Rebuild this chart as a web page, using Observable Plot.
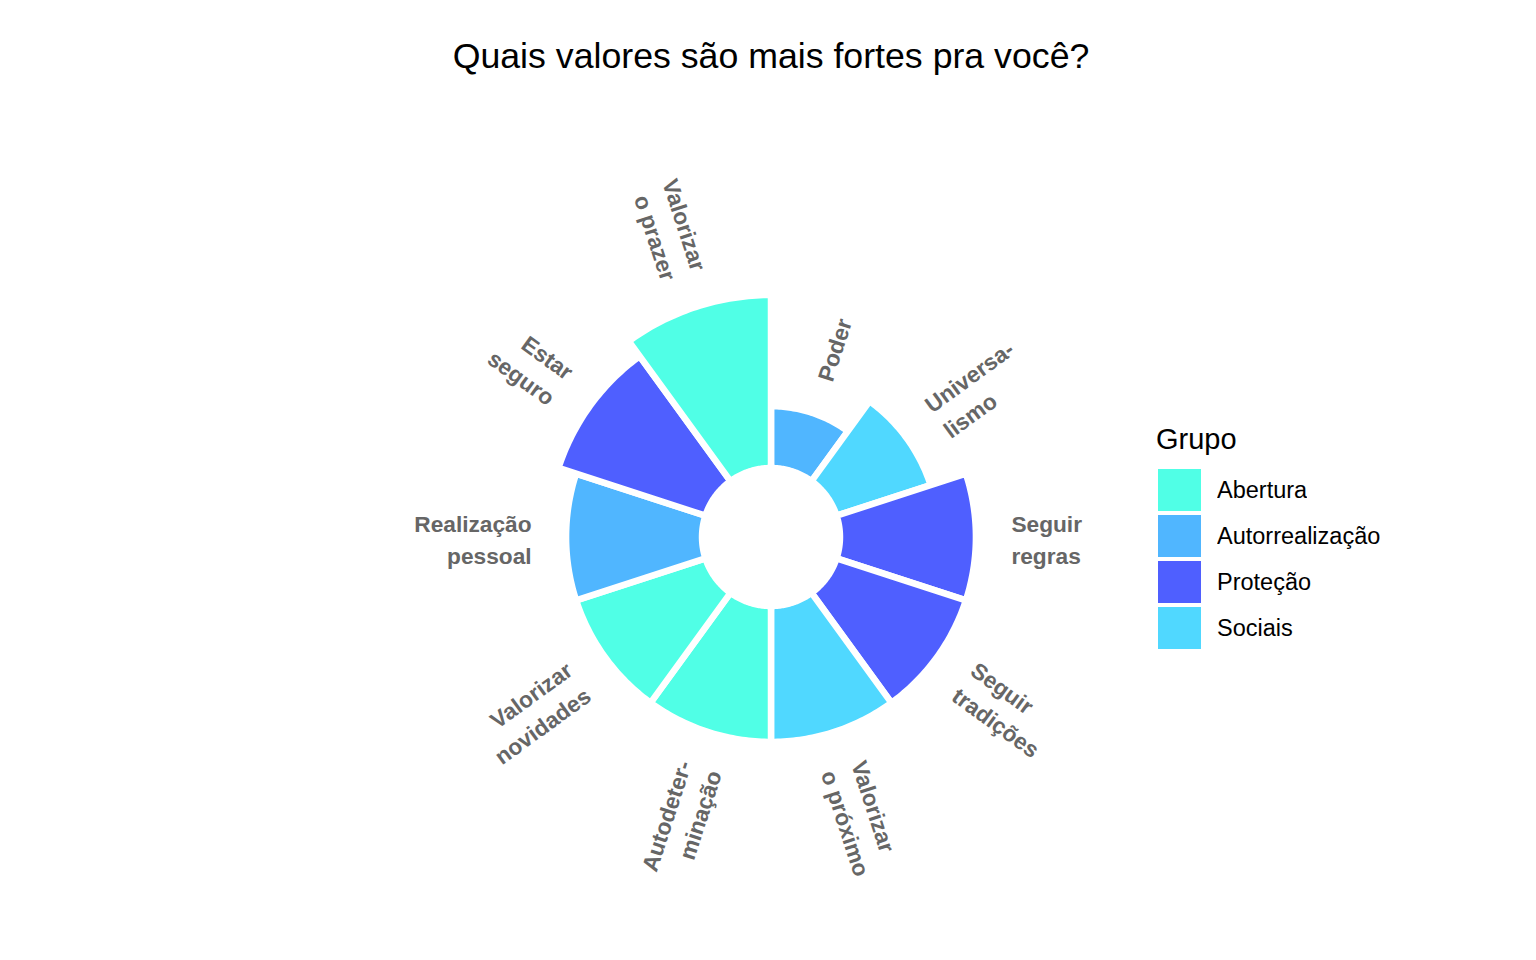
<!DOCTYPE html>
<html><head><meta charset="utf-8">
<script src="https://cdn.jsdelivr.net/npm/d3@7"></script>
<script src="https://cdn.jsdelivr.net/npm/@observablehq/plot@0.6"></script>
<style>
html,body{margin:0;padding:0;background:#fff;}
#wrap{position:relative;width:1536px;height:960px;overflow:hidden;font-family:"Liberation Sans",Arial,Helvetica,sans-serif;}
#chart{position:absolute;left:0;top:0;}
#title{position:absolute;left:0;top:39px;width:1542px;text-align:center;font-size:35.7px;line-height:35.7px;color:#000;}
#legtitle{position:absolute;left:1156px;top:425px;font-size:29px;line-height:29px;color:#000;}
#legend{position:absolute;left:1158px;top:469px;width:330px;}
.lg-swatches{font-family:"Liberation Sans",Arial,sans-serif !important;font-size:23.5px !important;margin:0 !important;color:#000;}
.lg-swatch{padding-bottom:4px !important;}
.lg-swatch > svg{margin-right:16px !important;}
</style></head>
<body><div id="wrap"><div id="chart"></div><div id="title">Quais valores são mais fortes pra você?</div><div id="legtitle">Grupo</div><div id="legend"></div></div>
<script>
const categorias = ["Poder","Universalismo","Seguir regras","Seguir tradições","Valorizar o próximo","Autodeterminação","Valorizar novidades","Realização pessoal","Estar seguro","Valorizar o prazer"];
const rotulos = ["Poder","Universa-\nlismo","Seguir\nregras","Seguir\ntradições","Valorizar\no próximo","Autodeter-\nminação","Valorizar\nnovidades","Realização\npessoal","Estar\nseguro","Valorizar\no prazer"];
const valores = [5, 8, 11, 11, 11, 11, 11, 11, 12.5, 14];
const grupos = ["Autorrealização","Sociais","Proteção","Proteção","Sociais","Abertura","Abertura","Autorrealização","Proteção","Abertura"];
const legendaGrupos = ["Abertura","Autorrealização","Proteção","Sociais"];
const cores = ["#50FFE6","#50B6FF","#4F5FFF","#50D8FF"];

// layout
const HOLE = 5.58;    // inner empty radius in value units (negative y limit)
const OFFSET = 2.83;  // label distance beyond bar end, value units
const PX = 12.36, CX = 771, CY = 537, W = 1536, H = 960;

const n = categorias.length;
const step = 360 / n;
const rad = d => d * Math.PI / 180;

const setores = categorias.flatMap((c, i) => d3.range(0, 41).map(k => {
  const a = rad(i * step + k * step / 40);
  const ro = valores[i] + HOLE, ri = HOLE;
  return {cat: c, grupo: grupos[i], xo: ro * Math.sin(a), yo: ro * Math.cos(a), xi: ri * Math.sin(a), yi: ri * Math.cos(a)};
}));

const rot = categorias.map((c, i) => {
  const ac = (i + 0.5) * step;
  let ang = 90 - ac, end = false;
  if (ang < -90) { ang += 180; end = true; }
  const r = valores[i] + HOLE + OFFSET;
  return {label: rotulos[i], x: r * Math.sin(rad(ac)), y: r * Math.cos(rad(ac)), rotate: -ang, end};
});

const txt = {x: "x", y: "y", text: "label", rotate: "rotate", lineHeight: 1.4, fontSize: 22.7, fontWeight: "bold", fill: "#666666", fontFamily: "Liberation Sans, Arial, sans-serif"};

const chart = Plot.plot({
  width: W, height: H, margin: 0,
  x: {domain: [-CX / PX, (W - CX) / PX], axis: null},
  y: {domain: [-(H - CY) / PX, CY / PX], axis: null},
  color: {domain: legendaGrupos, range: cores},
  style: {background: "transparent", overflow: "visible"},
  marks: [
    Plot.area(setores, {x1: "xo", y1: "yo", x2: "xi", y2: "yi", z: "cat", fill: "grupo", stroke: "white", strokeWidth: 6.5, strokeLinejoin: "miter", strokeMiterlimit: 10, curve: "linear"}),
    Plot.text(rot.filter(d => !d.end), {...txt, textAnchor: "start"}),
    Plot.text(rot.filter(d => d.end), {...txt, textAnchor: "end"})
  ]
});
document.getElementById("chart").appendChild(chart);

const leg = Plot.legend({
  legend: "swatches",
  color: {type: "ordinal", domain: legendaGrupos, range: cores},
  columns: 1, swatchWidth: 43, swatchHeight: 42, className: "lg"
});
document.getElementById("legend").appendChild(leg);
</script></body></html>
